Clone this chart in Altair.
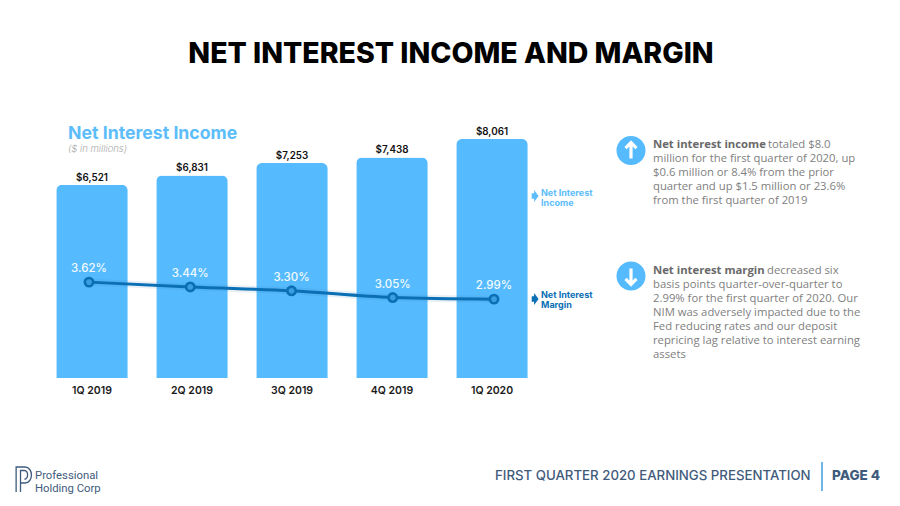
import altair as alt
import pandas as pd

quarters = ["1Q 2019", "2Q 2019", "3Q 2019", "4Q 2019", "1Q 2020"]
income = [6521, 6831, 7253, 7438, 8061]
margin = [3.62, 3.44, 3.30, 3.05, 2.99]
income_labels = ["$6,521", "$6,831", "$7,253", "$7,438", "$8,061"]
margin_labels = ["3.62%", "3.44%", "3.30%", "3.05%", "2.99%"]

BAR = "#56BBFE"
LINE = "#0B6FB5"
LIGHT = "#5DBDF9"
BODY = "#808080"
BODY_BOLD = "#696969"
NAVY = "#3F5B7C"
HEAD = "Inter"
COPY = "Open Sans"

df = pd.DataFrame({"q": quarters, "income": income, "margin": margin,
                   "il": income_labels, "ml": margin_labels})

x_bar = alt.X("q:N", sort=quarters, title=None,
              scale=alt.Scale(domain=quarters, range=[34, 534], paddingInner=0.285, paddingOuter=0.1425),
              axis=alt.Axis(domain=False, ticks=False, labelAngle=0, labelFont=HEAD, labelFontWeight=600,
                            labelFontSize=10.5, labelColor="#1a1a1a", labelPadding=7, grid=False))
x_bar_plain = alt.X("q:N", sort=quarters, title=None, axis=None,
                    scale=alt.Scale(domain=quarters, range=[34, 534], paddingInner=0.285, paddingOuter=0.1425))
x_line = alt.X("q:O", sort=quarters, title=None, axis=None,
               scale=alt.Scale(type="point", domain=quarters, range=[81, 486], padding=0))
y_bar = alt.Y("income:Q", title=None, axis=None, scale=alt.Scale(domain=[0, 12480], nice=False))
y_line = alt.Y("margin:Q", title=None, axis=None,
               scale=alt.Scale(domain=[0.07, 13.77], nice=False, zero=False))

base = alt.Chart(df)
bars = base.mark_bar(color=BAR, cornerRadiusTopLeft=6, cornerRadiusTopRight=6).encode(x=x_bar, y=y_bar)
bar_text = base.mark_text(font=HEAD, fontWeight=600, fontSize=9.8, color="#111111", dy=-7).encode(
    x=x_bar_plain, y=y_bar, text="il:N")
shadow = base.mark_line(color="#2a6f9f", opacity=0.10, strokeWidth=7, interpolate="monotone").encode(
    x=x_line, y=y_line)
line = base.mark_line(color=LINE, strokeWidth=3, interpolate="monotone").encode(x=x_line, y=y_line)
dots = base.mark_point(shape="circle", size=70, filled=False, stroke=LINE, strokeWidth=2.6, opacity=1,
                       fill="#3A9FE0", fillOpacity=1).encode(x=x_line, y=y_line)
line_text = base.mark_text(font=HEAD, fontWeight=500, fontSize=11.5, color="#F2FAFF", dy=-13).encode(
    x=x_line, y=y_line, text="ml:N")


def txt(s, x, y, font=COPY, size=11.3, color=BODY, weight=400, align="left", style="normal"):
    return alt.Chart(alt.Data(values=[{"t": s}])).mark_text(
        font=font, fontSize=size, color=color, fontWeight=weight, align=align, baseline="middle",
        fontStyle=style
    ).encode(x=alt.value(x - 8), y=alt.value(y - 8), text="t:N")


def sym(path, x, y, size, **kw):
    return alt.Chart(alt.Data(values=[{"a": 1}])).mark_point(shape=path, size=size, opacity=1, **kw).encode(
        x=alt.value(x - 8), y=alt.value(y - 8))


UP = "M 0 1 L 0 -1 M -0.68 -0.3 L 0 -1 L 0.68 -0.3"
DOWN = "M 0 -1 L 0 1 M -0.68 0.3 L 0 1 L 0.68 0.3"
TAG = "M -0.55 -0.45 L -0.15 -0.45 L -0.15 -1 L 0.6 0 L -0.15 1 L -0.15 0.45 L -0.55 0.45 Z"
LOGO_A = "M -0.55 1 L -0.55 -1 L 0.15 -1 C 0.85 -1 0.85 0.28 0.15 0.28 L -0.2 0.28"
LOGO_B = "M -0.2 1 L -0.2 -0.72 L 0.12 -0.72 C 0.45 -0.72 0.45 -0.02 0.12 -0.02"

deco = [
    txt("NET INTEREST INCOME AND MARGIN", 451, 53.5, font=HEAD, size=28.5, color="#000000", weight=800, align="center"),
    txt("Net Interest Income", 68, 134, font=HEAD, size=17.7, color=LIGHT, weight=700),
    txt("($ in millions)", 68, 149, font=HEAD, size=9.5, color="#a8a8a8", weight=300, style="italic"),
    sym(TAG, 535, 196, 144, filled=True, color=LIGHT),
    txt("Net Interest", 541, 193, font=HEAD, size=9, color=LIGHT, weight=700),
    txt("Income", 541, 203, font=HEAD, size=9, color=LIGHT, weight=700),
    sym(TAG, 535, 299, 144, filled=True, color=LINE),
    txt("Net Interest", 541, 295, font=HEAD, size=9, color=LINE, weight=700),
    txt("Margin", 541, 305, font=HEAD, size=9, color=LINE, weight=700),
    sym("circle", 631, 150.5, 841, filled=True, color=BAR),
    sym(UP, 631, 150.5, 256, filled=False, stroke="white", strokeWidth=3.2),
    sym("circle", 631, 276, 841, filled=True, color=BAR),
    sym(DOWN, 631, 276.5, 256, filled=False, stroke="white", strokeWidth=3.2),
    txt("Net interest income", 653, 145, color=BODY_BOLD, weight=700),
    txt("totaled $8.0", 768, 145),
    txt("million for the first quarter of 2020, up", 653, 159),
    txt("$0.6 million or 8.4% from the prior", 653, 173),
    txt("quarter and up $1.5 million or 23.6%", 653, 187),
    txt("from the first quarter of 2019", 653, 201),
    txt("Net interest margin", 653, 271, color=BODY_BOLD, weight=700),
    txt("decreased six", 767, 271),
    txt("basis points quarter-over-quarter to", 653, 285),
    txt("2.99% for the first quarter of 2020. Our", 653, 299),
    txt("NIM was adversely impacted due to the", 653, 313),
    txt("Fed reducing rates and our deposit", 653, 327),
    txt("repricing lag relative to interest earning", 653, 341),
    txt("assets", 653, 355),
    sym(LOGO_A, 23, 479.5, 625, filled=False, stroke=NAVY, strokeWidth=1.3),
    sym(LOGO_B, 23, 479.5, 625, filled=False, stroke=NAVY, strokeWidth=1.3),
    txt("Professional", 35, 475.5, font="Roboto", size=11.3, color=NAVY),
    txt("Holding Corp", 35, 488.5, font="Roboto", size=11.3, color=NAVY),
    txt("FIRST QUARTER 2020 EARNINGS PRESENTATION", 495, 476, font=HEAD, size=13.25, color=NAVY, weight=500),
    alt.Chart(alt.Data(values=[{"a": 1}])).mark_rule(color="#6DB6E6", strokeWidth=2).encode(
        x=alt.value(814), y=alt.value(454), y2=alt.value(483)),
    txt("PAGE 4", 832, 476, font=HEAD, size=13.5, color=NAVY, weight=800),
]

chart = alt.layer(bars, bar_text, shadow, line, dots, line_text, *deco).resolve_scale(
    x="independent", y="independent"
).properties(
    width=884, height=370, background="white",
    autosize=alt.AutoSizeParams(type="none"),
    padding={"left": 0, "top": 0, "right": 0, "bottom": 120},
).configure_view(stroke=None)

chart.save("out.html", embed_options={"renderer": "svg", "actions": False})
